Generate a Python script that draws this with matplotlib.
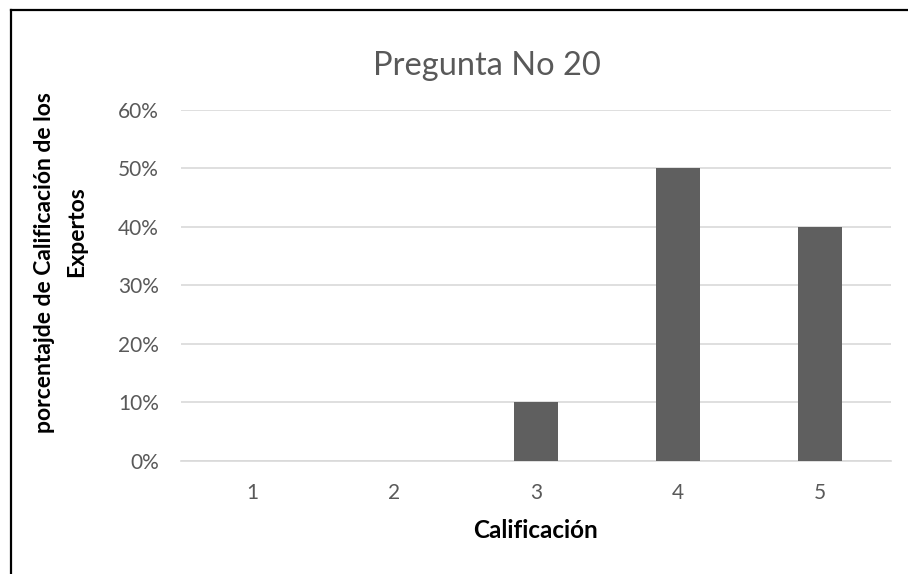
import matplotlib

matplotlib.use("Agg")
import matplotlib.pyplot as plt
from matplotlib.lines import Line2D
from matplotlib.ticker import PercentFormatter

plt.rcParams["font.family"] = ["Lato", "DejaVu Sans"]

categories = ["1", "2", "3", "4", "5"]
shares = [0.0, 0.0, 0.10, 0.50, 0.40]
y_ticks = [0.0, 0.1, 0.2, 0.3, 0.4, 0.5, 0.6]

TEXT_GREY = "#595959"
BAR_GREY = "#5f5f5f"
GRID_GREY = "#d9d9d9"

fig = plt.figure(figsize=(9.08, 5.74), dpi=100)
ax = fig.add_axes([0.1993, 0.1969, 0.7820, 0.6115])

xs = range(len(categories))
ax.bar(xs, shares, width=0.31, color=BAR_GREY, zorder=3)

ax.set_xlim(-0.5, len(categories) - 0.5)
ax.set_ylim(0, 0.6)
ax.set_yticks(y_ticks)
ax.yaxis.set_major_formatter(PercentFormatter(1.0, decimals=0))
ax.set_xticks(list(xs))
ax.set_xticklabels(categories)
ax.grid(axis="y", color=GRID_GREY, linewidth=1.2, zorder=0)
ax.tick_params(axis="both", length=0, labelsize=15, colors=TEXT_GREY)
ax.tick_params(axis="y", pad=16)
ax.tick_params(axis="x", pad=16)
for side in ("top", "right", "left"):
    ax.spines[side].set_visible(False)
ax.spines["bottom"].set_color(GRID_GREY)
ax.spines["bottom"].set_linewidth(1.2)

fig.text(487 / 908, 1 - 66 / 574, "Pregunta No 20", ha="center", va="center",
         fontsize=23.5, color=TEXT_GREY)
fig.text(536 / 908, 1 - 530 / 574, "Calificación", ha="center", va="center",
         fontsize=17.5, fontweight="bold", color="black")

# two-line y label, placed like the wrapped Excel label
fig.text(45 / 908, 1 - 263 / 574, "porcentajde de Calificación de los", rotation=90,
         ha="center", va="center", fontsize=16.5, fontweight="bold", color="black")
fig.text(77 / 908, 1 - 232 / 574, "Expertos", rotation=90,
         ha="center", va="center", fontsize=16.5, fontweight="bold", color="black")

# frame lines at top and left edge
fig.add_artist(Line2D([11 / 908, 1.0], [1 - 10 / 574, 1 - 10 / 574],
                      transform=fig.transFigure, color="black", linewidth=1.6))
fig.add_artist(Line2D([11 / 908, 11 / 908], [0.0, 1 - 10 / 574],
                      transform=fig.transFigure, color="black", linewidth=1.6))

fig.savefig("out.png", dpi=100)
